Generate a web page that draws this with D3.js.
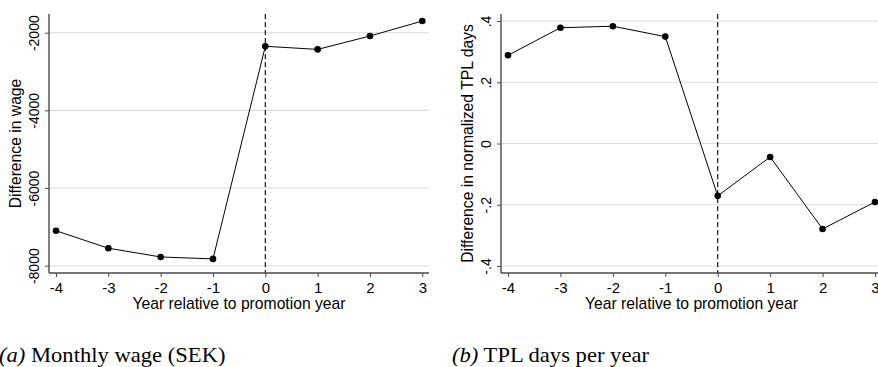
<!DOCTYPE html>
<html>
<head>
<meta charset="utf-8">
<script src="https://cdn.jsdelivr.net/npm/d3@7"></script>
<style>
  html, body { margin: 0; padding: 0; background: #fff; }
  svg { display: block; }
</style>
</head>
<body>
<svg id="fig" width="878" height="367"></svg>
<script>
// Event-study estimates by year relative to promotion
const years = [-4, -3, -2, -1, 0, 1, 2, 3];
const wageDiff = [-7100, -7550, -7775, -7825, -2350, -2430, -2085, -1700];
const tplDiff = [0.288, 0.378, 0.383, 0.349, -0.171, -0.044, -0.279, -0.191];

const wageTicks = [-8000, -6000, -4000, -2000];
const tplTicks = [-0.4, -0.2, 0, 0.2, 0.4];

const xTitle = "Year relative to promotion year";
const panels = [
  {
    values: wageDiff, yTicks: wageTicks, yDomain: [-8000, -2000],
    yTitle: "Difference in wage",
    fmt: d => String(d),
    left: 49, right: 429, xFirst: 56, xLast: 422.3,
    yLo: 265.7, yHi: 32.7,
    capTag: "(a)", capText: "Monthly wage (SEK)", capX: -1
  },
  {
    values: tplDiff, yTicks: tplTicks, yDomain: [-0.4, 0.4],
    yTitle: "Difference in normalized TPL days",
    fmt: d => d === 0 ? "0" : d3.format(".1f")(d).replace("−", "-").replace("0.", "."),
    left: 501, right: 882, xFirst: 508, xLast: 875,
    yLo: 266, yHi: 21,
    capTag: "(b)", capText: "TPL days per year", capX: 452
  }
];

const plotTop = 14, plotBottom = 273;
const axisColor = "#4a4a4a";
const sans = "'Liberation Sans', Arial, sans-serif";
const serif = "'Liberation Serif', 'Times New Roman', serif";

const svg = d3.select("#fig");

panels.forEach(p => {
  const x = d3.scaleLinear().domain([years[0], years[years.length - 1]]).range([p.xFirst, p.xLast]);
  const y = d3.scaleLinear().domain(p.yDomain).range([p.yLo, p.yHi]);
  const g = svg.append("g");

  // horizontal grid
  g.append("g").selectAll("line").data(p.yTicks).join("line")
    .attr("x1", p.left).attr("x2", p.right)
    .attr("y1", d => y(d)).attr("y2", d => y(d))
    .attr("stroke", "#d9d9d9").attr("stroke-width", 1.1);

  // reference line at promotion year
  g.append("line")
    .attr("x1", x(0)).attr("x2", x(0)).attr("y1", plotTop).attr("y2", plotBottom)
    .attr("stroke", "#000").attr("stroke-width", 1.1)
    .attr("stroke-dasharray", "5,3");

  // y axis
  const ya = g.append("g").attr("transform", `translate(${p.left},0)`)
    .call(d3.axisLeft(y).tickValues(p.yTicks).tickFormat(p.fmt).tickSize(4).tickSizeOuter(0));
  ya.select(".domain").remove();
  ya.append("line").attr("x1", 0).attr("x2", 0).attr("y1", plotTop).attr("y2", plotBottom)
    .attr("stroke", axisColor).attr("stroke-width", 1.4);
  ya.selectAll(".tick line").attr("stroke", axisColor).attr("stroke-width", 1);
  ya.selectAll(".tick text")
    .attr("x", 0).attr("y", 0).attr("dy", null)
    .attr("transform", "translate(-10.5,0) rotate(-90)")
    .attr("text-anchor", "middle")
    .attr("fill", "#000")
    .style("font-family", sans).style("font-size", "14px");

  // x axis
  const xa = g.append("g").attr("transform", `translate(0,${plotBottom})`)
    .call(d3.axisBottom(x).tickValues(years).tickFormat(d => String(d)).tickSize(4).tickSizeOuter(0));
  xa.select(".domain").remove();
  xa.append("line").attr("x1", p.left).attr("x2", p.right).attr("y1", 0).attr("y2", 0)
    .attr("stroke", axisColor).attr("stroke-width", 1.4);
  xa.selectAll(".tick line").attr("stroke", axisColor).attr("stroke-width", 1);
  xa.selectAll(".tick text")
    .attr("y", 19.5).attr("dy", null)
    .attr("fill", "#000")
    .style("font-family", sans).style("font-size", "15px");

  // axis titles
  g.append("text")
    .attr("transform", `translate(${p.left - 28.5},${(plotTop + plotBottom) / 2}) rotate(-90)`)
    .attr("text-anchor", "middle")
    .style("font-family", sans).style("font-size", "15.7px")
    .text(p.yTitle);
  g.append("text")
    .attr("x", (p.left + p.right) / 2).attr("y", 308.5)
    .attr("text-anchor", "middle")
    .style("font-family", sans).style("font-size", "15.7px")
    .text(xTitle);

  // series line and markers
  const pts = years.map((yr, i) => [yr, p.values[i]]);
  g.append("path").datum(pts)
    .attr("fill", "none").attr("stroke", "#000").attr("stroke-width", 1)
    .attr("d", d3.line().x(d => x(d[0])).y(d => y(d[1])));
  g.append("g").selectAll("circle").data(pts).join("circle")
    .attr("cx", d => x(d[0])).attr("cy", d => y(d[1])).attr("r", 3.3)
    .attr("fill", "#000");

  // subfigure caption
  const cap = g.append("text")
    .attr("transform", `translate(${p.capX},361.5) scale(1.13,1)`)
    .style("font-family", serif).style("font-size", "20px");
  cap.append("tspan").style("font-style", "italic").text(p.capTag);
  cap.append("tspan").text(" " + p.capText);
});
</script>
</body>
</html>
